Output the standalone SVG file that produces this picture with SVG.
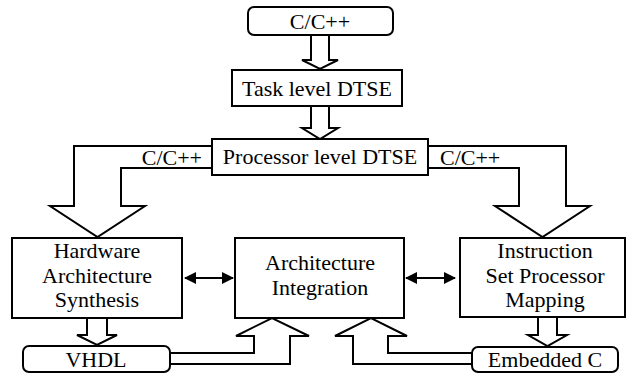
<svg xmlns="http://www.w3.org/2000/svg" width="627" height="373" viewBox="0 0 627 373">
  <style>
    .box { fill: #fff; stroke: #000; stroke-width: 2; }
    .flow { fill: none; stroke: #000; stroke-width: 2; stroke-linejoin: miter; }
    .link { fill: none; stroke: #000; stroke-width: 2; }
    text { font-family: "Liberation Serif", "Times New Roman", serif; font-size: 22px; fill: #000; }
    .c { text-anchor: middle; }
  </style>
  <defs>
    <marker id="tip" viewBox="0 0 12 12" refX="11" refY="6" markerWidth="12" markerHeight="12" markerUnits="userSpaceOnUse" orient="auto-start-reverse">
      <path d="M0,0 L12,6 L0,12 Z" fill="#000"/>
    </marker>
  </defs>
  <rect width="627" height="373" fill="#fff"/>

  <g id="connectors">
    <!-- hollow block arrows -->
    <polyline class="flow" points="311,35 311,60 302,60 320,69 338,60 329,60 329,35"/>
    <polyline class="flow" points="311,106 311,128 302,128 320,139 338,128 329,128 329,106"/>
    <polyline class="flow" points="212,146 74,146 74,206 50,206 97.5,237 145,206 121,206 121,168 212,168"/>
    <polyline class="flow" points="428,146 566,146 566,206 590,206 542.5,237 495,206 519,206 519,168 428,168"/>
    <polyline class="flow" points="87,318 87,335 77,335 97,345 117,335 107,335 107,318"/>
    <polyline class="flow" points="538,317 538,335 528,335 547.5,346 567,335 557,335 557,317"/>
    <polyline class="flow" points="170,353 254,353 254,336 236,336 272,318 309,336 290,336 290,364 170,364"/>
    <polyline class="flow" points="472,353 388,353 388,336 407,336 371,318 335,336 353,336 353,364 472,364"/>
    <!-- two-way links -->
    <line class="link" x1="185" y1="278" x2="233" y2="278" marker-start="url(#tip)" marker-end="url(#tip)"/>
    <line class="link" x1="406" y1="278" x2="455" y2="278" marker-start="url(#tip)" marker-end="url(#tip)"/>
    <!-- labels on the split -->
    <text x="202" y="165" text-anchor="end">C/C++</text>
    <text x="440" y="165">C/C++</text>
  </g>

  <g id="source">
    <rect class="box" x="248" y="7" width="145" height="28" rx="6"/>
    <text class="c" x="320" y="29">C/C++</text>
  </g>
  <g id="task-dtse">
    <rect class="box" x="232" y="70" width="170" height="36"/>
    <text class="c" x="317" y="96">Task level DTSE</text>
  </g>
  <g id="processor-dtse">
    <rect class="box" x="212" y="139" width="216" height="36"/>
    <text class="c" x="320" y="164">Processor level DTSE</text>
  </g>
  <g id="hw-synthesis">
    <rect class="box" x="12" y="238" width="170" height="80"/>
    <text class="c" x="97" y="258">Hardware</text>
    <text class="c" x="97" y="283">Architecture</text>
    <text class="c" x="97" y="307">Synthesis</text>
  </g>
  <g id="arch-integration">
    <rect class="box" x="235" y="238" width="169" height="80"/>
    <text class="c" x="320" y="270">Architecture</text>
    <text class="c" x="320" y="295">Integration</text>
  </g>
  <g id="isp-mapping">
    <rect class="box" x="460" y="238" width="165" height="79"/>
    <text class="c" x="545" y="258">Instruction</text>
    <text class="c" x="545" y="283">Set Processor</text>
    <text class="c" x="545" y="307">Mapping</text>
  </g>
  <g id="vhdl">
    <rect class="box" x="23" y="346" width="147" height="26" rx="6"/>
    <text class="c" x="96" y="367">VHDL</text>
  </g>
  <g id="embedded-c">
    <rect class="box" x="472" y="347" width="146" height="25" rx="6"/>
    <text class="c" x="545" y="367">Embedded C</text>
  </g>
</svg>
